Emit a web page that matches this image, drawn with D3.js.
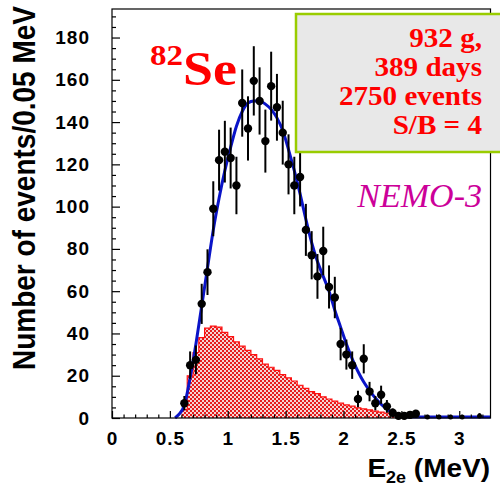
<!DOCTYPE html>
<html>
<head>
<meta charset="utf-8">
<script src="https://cdn.jsdelivr.net/npm/d3@7"></script>
<style>
body { margin: 0; background: #fff; }
</style>
</head>
<body>
<div id="chart"></div>
<script>
// measured spectrum, bin centres in MeV
var dataE = [0.625,0.675,0.725,0.775,0.825,0.875,0.925,0.975,1.025,1.075,1.125,1.175,1.225,1.275,1.325,1.375,1.425,1.475,1.525,1.575,1.625,1.675,1.725,1.775,1.825,1.875,1.925,1.975,2.025,2.075,2.125,2.175,2.225,2.275,2.325,2.375,2.425,2.475,2.525,2.575,2.625,2.725,2.825,2.925,3.025,3.175];
var dataN = [7,25,27.5,54,69,99,122,126,123,110,149,137,159.5,150,131,157,147,135,120,110,114,89,77,67,79,62,57,35,30,25,9,28,12.5,7,11,5.5,2.5,1,1,1.5,2,0.5,0.5,0.5,0.5,1];
var dataErr = [3.4,6.5,6.8,9.5,10.8,13,14.4,14.6,14.4,13.6,15.9,15.2,16.4,15.9,14.9,16.3,15.8,15.1,14.2,13.6,13.9,12.3,11.4,10.6,11.5,10.2,9.8,7.7,7.1,6.5,3.9,6.9,4.6,3.4,4.3,3,2,1.3,1.3,1.5,1.8,1,1,1,1,1.3];

// background histogram (left bin edges)
var bgEdge = [0.60,0.65,0.70,0.75,0.80,0.85,0.90,0.95,1.00,1.05,1.10,1.15,1.20,1.25,1.30,1.35,1.40,1.45,1.50,1.55,1.60,1.65,1.70,1.75,1.80,1.85,1.90,1.95,2.00,2.05,2.10,2.15,2.20,2.25,2.30,2.35,2.40,2.45,2.50];
var bgCount = [4,20,31,38,42.5,43.5,43,40.5,38.5,36,34,32,30,28,25.5,24,22.5,20.5,19,17.5,15.5,14,12.5,11.5,10,9,8,7,6.2,5.6,4.8,4.3,3.8,3.3,2.8,2.3,1.8,0.8,0.3];

// fitted curve
var fitE = [0.545,0.575,0.625,0.675,0.725,0.775,0.825,0.875,0.925,0.975,1.025,1.075,1.125,1.175,1.225,1.275,1.325,1.375,1.425,1.475,1.525,1.575,1.625,1.675,1.725,1.775,1.825,1.875,1.925,1.975,2.025,2.075,2.125,2.175,2.225,2.275,2.325,2.375,2.425,2.475,2.525,2.6,3.27];
var fitV = [0,1.5,6,19,35,53,71,89,104,117,128,138,145,149,150,150,148.5,146,142,136,127,117,106,94,83,74,67,60,51,43,35,28,22,17,13,9.5,6.5,4.2,2.4,1.2,0.6,0.5,0.5];

var xTicks = [0,0.5,1,1.5,2,2.5,3];
var xTickLabels = ["0","0.5","1","1.5","2","2.5","3"];
var yTicks = [0,20,40,60,80,100,120,140,160,180];
var infoLines = ["932 g,","389 days","2750 events","S/B = 4"];

var W = 500, H = 489;
var xMax = 3.27, yMax = 193.5;

var x = d3.scaleLinear().domain([0, xMax]).range([112, 490.5]);
var y = d3.scaleLinear().domain([0, yMax]).range([418, 9]);

var svg = d3.select("#chart")
            .append("svg")
            .attr("width", W)
            .attr("height", H);

var defs = svg.append("defs");
var pat = defs.append("pattern")
              .attr("id", "hatch")
              .attr("patternUnits", "userSpaceOnUse")
              .attr("width", 4)
              .attr("height", 4);
pat.append("rect").attr("width", 4).attr("height", 4).attr("fill", "#f4d4d4");
pat.append("rect").attr("width", 2).attr("height", 2).attr("fill", "#e61c1c");
pat.append("rect").attr("x", 2).attr("y", 2).attr("width", 2).attr("height", 2).attr("fill", "#e61c1c");

// background histogram
var bg = [];
for (var i = 0; i < bgEdge.length; i++) {
	bg.push({e: bgEdge[i], v: bgCount[i]});
}
bg.push({e: xMax, v: bgCount[bgCount.length - 1]});

var bgArea = d3.area()
               .x(function(d) { return x(d.e); })
               .y0(y(0))
               .y1(function(d) { return y(d.v); })
               .curve(d3.curveStepAfter);
var bgLine = d3.line()
               .x(function(d) { return x(d.e); })
               .y(function(d) { return y(d.v); })
               .curve(d3.curveStepAfter);

svg.append("path")
   .attr("d", bgArea(bg))
   .attr("fill", "url(#hatch)");
svg.append("path")
   .attr("d", bgLine(bg))
   .attr("fill", "none")
   .attr("stroke", "#ff1010")
   .attr("stroke-width", 1.2);

// fit curve
var fit = [];
for (var i = 0; i < fitE.length; i++) {
	fit.push({e: fitE[i], v: fitV[i]});
}
var fitLine = d3.line()
                .x(function(d) { return x(d.e); })
                .y(function(d) { return y(d.v); })
                .curve(d3.curveMonotoneX);
svg.append("path")
   .attr("d", fitLine(fit))
   .attr("fill", "none")
   .attr("stroke", "#0a14c8")
   .attr("stroke-width", 3);

// data points with error bars
var pts = [];
for (var i = 0; i < dataE.length; i++) {
	pts.push({e: dataE[i], n: dataN[i], err: dataErr[i]});
}
svg.append("g").selectAll("line")
   .data(pts)
   .enter().append("line")
   .attr("x1", function(d) { return x(d.e); })
   .attr("x2", function(d) { return x(d.e); })
   .attr("y1", function(d) { return y(Math.max(0, d.n - d.err)); })
   .attr("y2", function(d) { return y(d.n + d.err); })
   .attr("stroke", "#000")
   .attr("stroke-width", 2);
svg.append("g").selectAll("circle")
   .data(pts)
   .enter().append("circle")
   .attr("cx", function(d) { return x(d.e); })
   .attr("cy", function(d) { return y(d.n); })
   .attr("r", function(d) { return d.e > 2.7 ? 2.5 : 4.2; })
   .attr("fill", "#000");

// frame
svg.append("rect")
   .attr("x", x(0)).attr("y", y(yMax))
   .attr("width", x(xMax) - x(0))
   .attr("height", y(0) - y(yMax))
   .attr("fill", "none")
   .attr("stroke", "#000")
   .attr("stroke-width", 1.2);

// axes, ticks drawn inward
var xMinor = [];
for (var t = 1; t <= 32; t++) { if (t % 5 != 0) xMinor.push(t / 10); }
var yMinor = [];
for (var t = 5; t < yMax; t += 5) { if (t % 20 != 0) yMinor.push(t); }

var xAxis = d3.axisBottom(x)
              .tickValues(xTicks)
              .tickFormat(function(d, i) { return xTickLabels[i]; })
              .tickSize(-7)
              .tickPadding(14);
var gx = svg.append("g").attr("transform", "translate(0," + y(0) + ")").call(xAxis);
svg.append("g").attr("transform", "translate(0," + y(0) + ")")
   .call(d3.axisBottom(x).tickValues(xMinor).tickFormat("").tickSize(-3.5))
   .select(".domain").remove();

var yAxis = d3.axisLeft(y)
              .tickValues(yTicks)
              .tickSize(-8)
              .tickPadding(22);
var gy = svg.append("g").attr("transform", "translate(" + x(0) + ",0)").call(yAxis);
svg.append("g").attr("transform", "translate(" + x(0) + ",0)")
   .call(d3.axisLeft(y).tickValues(yMinor).tickFormat("").tickSize(-4))
   .select(".domain").remove();

[gx, gy].forEach(function(g) {
	g.select(".domain").remove();
	g.selectAll("text")
	 .attr("font-family", "'Liberation Sans', Arial, sans-serif")
	 .attr("font-weight", "bold")
	 .attr("font-size", 19)
	 .attr("letter-spacing", 1)
	 .attr("fill", "#000");
});
svg.selectAll(".tick line").attr("stroke", "#000").attr("stroke-width", 1.2);

// axis titles
svg.append("text")
   .attr("transform", "translate(35,188) scale(1.1,1) rotate(-90)")
   .attr("text-anchor", "middle")
   .attr("font-family", "'Liberation Sans', Arial, sans-serif")
   .attr("font-weight", "bold")
   .attr("font-size", 28)
   .text("Number of events/0.05 MeV");

var xt = svg.append("text")
            .attr("transform", "translate(490,477) scale(1.12,1)")
            .attr("text-anchor", "end")
            .attr("font-family", "'Liberation Sans', Arial, sans-serif")
            .attr("font-weight", "bold")
            .attr("font-size", 25);
xt.append("tspan").text("E");
xt.append("tspan").attr("font-size", 16).attr("dy", 6).text("2e");
xt.append("tspan").attr("dy", -6).text(" (MeV)");

// isotope label
var se = svg.append("text")
            .attr("transform", "translate(150,85) scale(1.1,1)")
            .attr("font-family", "'Liberation Serif', 'Times New Roman', serif")
            .attr("font-weight", "bold")
            .attr("fill", "#ff0000");
se.append("tspan").attr("font-size", 30).attr("dy", -20).text("82");
se.append("tspan").attr("font-size", 49).attr("dy", 20).text("Se");

// info box
svg.append("rect")
   .attr("x", 296).attr("y", 14)
   .attr("width", 210).attr("height", 138)
   .attr("fill", "#e8e8e8")
   .attr("stroke", "#99cc00")
   .attr("stroke-width", 2.5);

svg.append("g").selectAll("text")
   .data(infoLines)
   .enter().append("text")
   .attr("transform", function(d, i) { return "translate(482," + (47 + i * 29) + ") scale(1.04,1)"; })
   .attr("text-anchor", "end")
   .attr("font-family", "'Liberation Serif', 'Times New Roman', serif")
   .attr("font-weight", "bold")
   .attr("font-size", 28)
   .attr("fill", "#ff0000")
   .text(function(d) { return d; });

svg.append("text")
   .attr("x", 482).attr("y", 207)
   .attr("text-anchor", "end")
   .attr("font-family", "'Liberation Serif', 'Times New Roman', serif")
   .attr("font-style", "italic")
   .attr("font-size", 34)
   .attr("fill", "#cc0099")
   .text("NEMO-3");
</script>
</body>
</html>
